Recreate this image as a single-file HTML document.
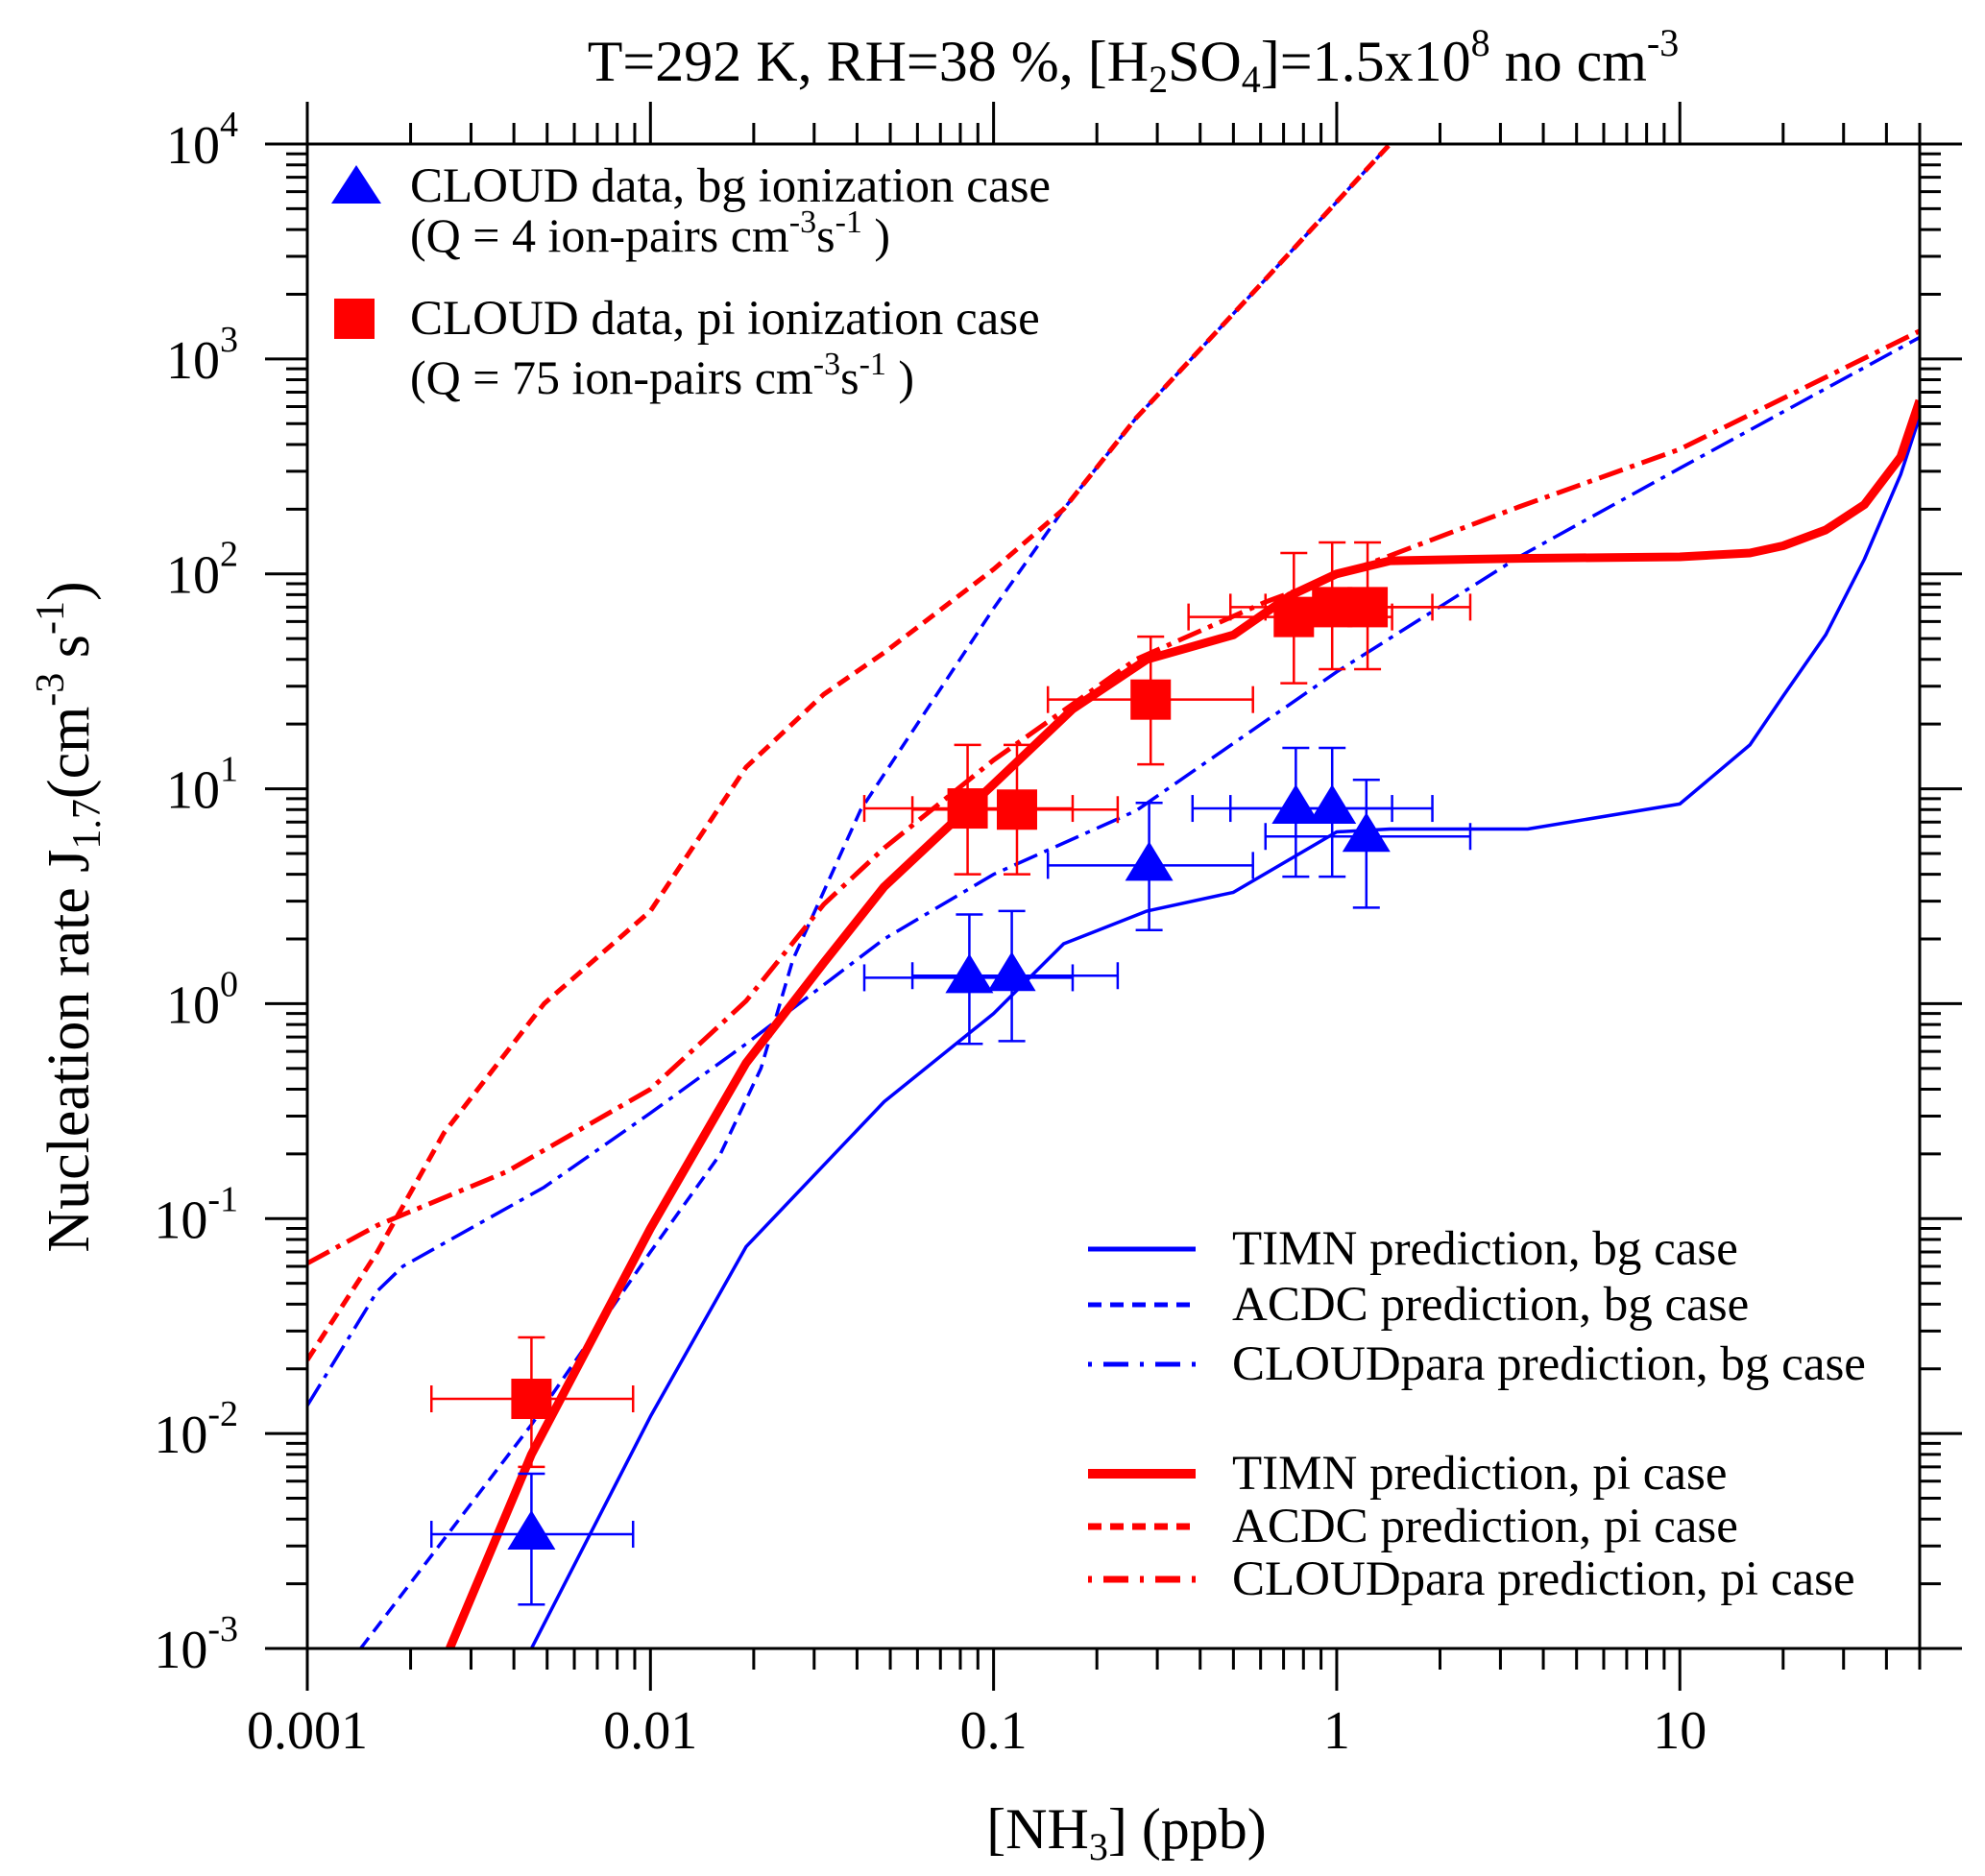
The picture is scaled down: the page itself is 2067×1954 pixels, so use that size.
<!DOCTYPE html>
<html><head><meta charset="utf-8"><style>
html,body{margin:0;padding:0;background:#fff}
svg{display:block}
text{font-family:"Liberation Serif",serif;fill:#000}
</style></head><body>
<svg id="chart" width="2067" height="1954" viewBox="0 0 2067 1954" xmlns="http://www.w3.org/2000/svg">
<g id="curves"></g>
<g id="points"></g>
<g id="axes"></g>
<text x="1180" y="84" font-size="60" text-anchor="middle">T=292 K, RH=38  %, [H<tspan font-size="40" dy="12">2</tspan><tspan dy="-12">SO</tspan><tspan font-size="40" dy="12">4</tspan><tspan dy="-12">]=1.5x10</tspan><tspan font-size="40" dy="-26">8</tspan><tspan dy="26">  no cm</tspan><tspan font-size="40" dy="-26">-3</tspan></text>
<text x="1173" y="1925" font-size="60" text-anchor="middle">[NH<tspan font-size="40" dy="12">3</tspan><tspan dy="-12">] (ppb)</tspan></text>
<text transform="translate(92,955) rotate(-90)" font-size="62" text-anchor="middle">Nucleation rate  J<tspan font-size="42" dy="12">1.7</tspan><tspan dy="-12">(cm</tspan><tspan font-size="42" dy="-26">-3</tspan><tspan dy="26"> s</tspan><tspan font-size="42" dy="-26">-1</tspan><tspan dy="26">)</tspan></text>
<g>
<polygon points="371,172 397,212 345,212" fill="#0000ff"/>
<text x="427" y="210" font-size="51">CLOUD data, bg ionization case</text>
<text x="427" y="262" font-size="50">(Q = 4 ion-pairs cm<tspan font-size="34" dy="-20">-3</tspan><tspan dy="20">s</tspan><tspan font-size="34" dy="-20">-1</tspan><tspan dy="20"> )</tspan></text>
<rect x="348" y="311" width="42" height="42" fill="#ff0000"/>
<text x="427" y="348" font-size="51">CLOUD data, pi ionization case</text>
<text x="427" y="410" font-size="50">(Q = 75 ion-pairs cm<tspan font-size="34" dy="-20">-3</tspan><tspan dy="20">s</tspan><tspan font-size="34" dy="-20">-1</tspan><tspan dy="20"> )</tspan></text>
</g>
<g id="legend"></g>
<script>
const xTicks=[0.001,0.01,0.1,1,10];
const xTickLabels=["0.001","0.01","0.1","1","10"];
const yTickExps=[-3,-2,-1,0,1,2,3,4];
const timnBgX=[0.0045,0.01,0.019,0.048,0.1,0.16,0.28,0.5,1,1.43,3.6,10,16,20,26.6,34.5,44,50];
const timnBgY=[0.001,0.012,0.074,0.35,0.9,1.9,2.7,3.3,6.3,6.5,6.5,8.5,16,27,52,117,290,540];
const acdcBgX=[0.00143,0.0045,0.01,0.016,0.021,0.026,0.041,0.1,0.16,0.26,0.62,1.43];
const acdcBgY=[0.001,0.011,0.07,0.2,0.5,1.6,8,69,200,530,2350,10000];
const paraBgX=[0.001,0.0016,0.0019,0.0049,0.01,0.019,0.048,0.1,0.26,1,3.4,10,50];
const paraBgY=[0.0135,0.046,0.06,0.14,0.31,0.65,2.0,4,7.9,35,120,310,1260];
const timnPiX=[0.0026,0.0045,0.01,0.019,0.032,0.048,0.1,0.17,0.28,0.5,0.73,1,1.43,3.4,10,16,20,26.6,34.5,44,50];
const timnPiY=[0.001,0.008,0.09,0.53,1.55,3.5,10.5,23.5,40,52,79,100,115,118,120,125,135,160,210,350,640];
const acdcPiX=[0.001,0.0016,0.0025,0.0049,0.01,0.019,0.032,0.048,0.1,0.16,0.26,0.62,1.43];
const acdcPiY=[0.022,0.07,0.25,1.0,2.7,12.6,27.5,43,105,200,530,2350,10000];
const paraPiX=[0.001,0.0016,0.0038,0.01,0.019,0.032,0.048,0.1,0.26,0.62,1,3.4,10,50];
const paraPiY=[0.062,0.093,0.165,0.4,1.03,2.9,5.3,13.6,40,74,98,205,380,1350];
const piX=[0.0045,0.084,0.117,0.287,0.75,0.97,1.23];
const piY=[0.0145,8.1,8,26,63,70,70];
const piXlo=[0.0023,0.042,0.058,0.144,0.37,0.49,0.62];
const piXhi=[0.0089,0.17,0.23,0.57,1.45,1.9,2.45];
const piYlo=[0.007,4,4,13,31,36,36];
const piYhi=[0.028,16,16,51,125,140,140];
const bgX=[0.0045,0.085,0.113,0.284,0.76,0.97,1.22];
const bgY=[0.0034,1.32,1.35,4.4,8.1,8.1,6.0];
const bgXlo=[0.0023,0.042,0.058,0.144,0.38,0.49,0.62];
const bgXhi=[0.0089,0.17,0.23,0.57,1.45,1.9,2.45];
const bgYlo=[0.0016,0.65,0.67,2.2,3.9,3.9,2.8];
const bgYhi=[0.0065,2.6,2.7,8.6,15.5,15.5,11];

const L=320,R=1999,T=150,B=1717;
const xmin=-3,xmax=Math.log10(50),ymin=-3,ymax=4;
const sx=v=>L+(Math.log10(v)-xmin)/(xmax-xmin)*(R-L);
const sy=v=>B-(Math.log10(v)-ymin)/(ymax-ymin)*(B-T);
const NS="http://www.w3.org/2000/svg";
function mk(tag,parent,attrs){const e=document.createElementNS(NS,tag);for(const k in attrs)e.setAttribute(k,attrs[k]);parent.appendChild(e);return e;}
const curves=document.getElementById('curves');
const clip=mk('clipPath',curves,{id:'pc'});mk('rect',clip,{x:L,y:T,width:R-L,height:B-T});
const series=[
 [timnBgX,timnBgY,'#0000ff',3.5,'','timn-bg-line'],
 [acdcBgX,acdcBgY,'#0000ff',3.5,'14 8','acdc-bg-line'],
 [paraBgX,paraBgY,'#0000ff',3.5,'26 8 5 8','cloudpara-bg-line'],
 [acdcPiX,acdcPiY,'#ff0000',5,'14 8','acdc-pi-line'],
 [paraPiX,paraPiY,'#ff0000',5,'26 8 5 8','cloudpara-pi-line'],
 [timnPiX,timnPiY,'#ff0000',9,'','timn-pi-line']];
series.forEach(s=>{
 const d=s[0].map((x,i)=>(i?'L':'M')+sx(x).toFixed(1)+','+sy(s[1][i]).toFixed(1)).join(' ');
 const p=mk('path',curves,{d:d,fill:'none',stroke:s[2],'stroke-width':s[3],'clip-path':'url(#pc)','stroke-linejoin':'round'});
 if(s[4])p.setAttribute('stroke-dasharray',s[4]);
 
 
});
const pts=document.getElementById('points');
function errbars(X,Y,xl,xh,yl,yh,col){
 X.forEach((x,i)=>{
  const g=mk('g',pts,{stroke:col,'stroke-width':2.5});
  
  
  const cx=sx(x),cy=sy(Y[i]);
  mk('line',g,{x1:sx(xl[i]),x2:sx(xh[i]),y1:cy,y2:cy});
  mk('line',g,{x1:sx(xl[i]),x2:sx(xl[i]),y1:cy-14,y2:cy+14});
  mk('line',g,{x1:sx(xh[i]),x2:sx(xh[i]),y1:cy-14,y2:cy+14});
  mk('line',g,{x1:cx,x2:cx,y1:sy(yl[i]),y2:sy(yh[i])});
  mk('line',g,{x1:cx-14,x2:cx+14,y1:sy(yl[i]),y2:sy(yl[i])});
  mk('line',g,{x1:cx-14,x2:cx+14,y1:sy(yh[i]),y2:sy(yh[i])});
 });
}
errbars(bgX,bgY,bgXlo,bgXhi,bgYlo,bgYhi,'#0000ff');
errbars(piX,piY,piXlo,piXhi,piYlo,piYhi,'#ff0000');
bgX.forEach((x,i)=>{const cx=sx(x),cy=sy(bgY[i]);
 const t=mk('polygon',pts,{points:`${cx},${cy-25} ${cx+25},${cy+16} ${cx-25},${cy+16}`,fill:'#0000ff'});
 
 });
piX.forEach((x,i)=>{const cx=sx(x),cy=sy(piY[i]);
 const r=mk('rect',pts,{x:cx-21,y:cy-21,width:42,height:42,fill:'#ff0000'});
 
 });
// axes
const ax=document.getElementById('axes');
const fr=mk('rect',ax,{x:L,y:T,width:R-L,height:B-T,fill:'none',stroke:'#000','stroke-width':3});


function tl(x1,y1,x2,y2){mk('line',ax,{x1,y1,x2,y2,stroke:'#000','stroke-width':3});}
for(let e=-3;e<=1;e++){for(let m=1;m<10;m++){const v=m*Math.pow(10,e);if(v>50.001)continue;const x=sx(v);const len=m===1?44:22;
 tl(x,B,x,B+len);tl(x,T,x,T-len);}}
tl(R,B,R+44,B);tl(R,B,R,B+22);
yTickExps.forEach(e=>{for(let m=1;m<10;m++){const v=m*Math.pow(10,e);if(e===4&&m>1)continue;const y=sy(v);const len=m===1?44:22;
 tl(L,y,L-len,y);tl(R,y,R+len,y);}});
xTicks.forEach((v,i)=>{const t=mk('text',ax,{x:sx(v),y:B+104,'font-size':56,'text-anchor':'middle'});t.textContent=xTickLabels[i];
 
 });
yTickExps.forEach(e=>{const t=mk('text',ax,{x:248,y:sy(Math.pow(10,e))+20,'font-size':56,'text-anchor':'end'});
 
 
 const a=mk('tspan',t,{});a.textContent='10';
 const b=mk('tspan',t,{'font-size':38,dy:-28});b.textContent=String(e);});
// line legend
const lg=document.getElementById('legend');
const leg=[['TIMN prediction, bg case','#0000ff',5,'',1301],['ACDC prediction, bg case','#0000ff',5,'14 9',1359],['CLOUDpara prediction, bg case','#0000ff',5,'4 12 26 12',1421],
['TIMN prediction, pi case','#ff0000',10,'',1535],['ACDC prediction, pi case','#ff0000',7,'14 9',1590],['CLOUDpara prediction, pi case','#ff0000',7,'4 12 26 12',1645]];
leg.forEach(l=>{const ln=mk('line',lg,{x1:1133,x2:1245,y1:l[4],y2:l[4],stroke:l[1],'stroke-width':l[2]});if(l[3])ln.setAttribute('stroke-dasharray',l[3]);
 
 
 const t=mk('text',lg,{x:1283,y:l[4]+16,'font-size':51});t.textContent=l[0];
 
 });
</script>
</svg>
</body></html>
